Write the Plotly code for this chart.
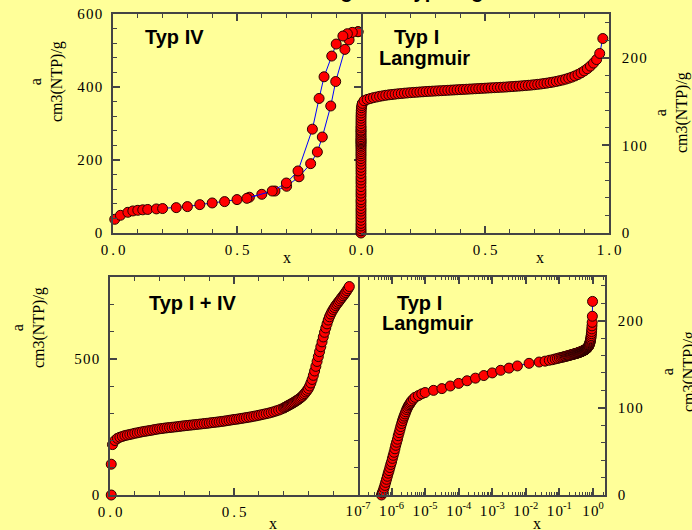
import plotly.graph_objects as go

# ---------------- data ----------------
# Typ IV (hysteresis): adsorption and desorption branches
typ4_ads_x = [0.007, 0.03, 0.06, 0.08, 0.10, 0.12, 0.14, 0.175, 0.20, 0.255, 0.30, 0.35, 0.40, 0.45,
              0.50, 0.55, 0.60, 0.653, 0.70, 0.75, 0.797, 0.824, 0.844, 0.878, 0.898, 0.935, 0.952, 0.988]
typ4_ads_y = [37.5, 48.5, 56.7, 60.4, 62.2, 63.5, 64.5, 66, 67, 69.5, 72.3, 77.7, 82.3, 86,
              91.5, 98, 106, 115, 128, 154, 190, 222, 263, 348, 415, 503, 529, 551.5]
typ4_des_x = [0.988, 0.965, 0.945, 0.927, 0.90, 0.882, 0.851, 0.831, 0.804, 0.746, 0.699, 0.642, 0.54]
typ4_des_y = [551.5, 549.7, 546, 539.7, 517.7, 484.8, 428, 368.6, 284.5, 170, 137, 115, 95]

# Typ I (Langmuir): steep low-pressure part, log-spaced part, linear part
lang_steep_x = [5.01e-7, 5.31e-7, 5.62e-7, 5.96e-7, 6.31e-7, 6.68e-7, 7.08e-7, 7.50e-7, 7.94e-7, 8.41e-7,
                8.91e-7, 9.44e-7, 1.00e-6, 1.06e-6, 1.12e-6, 1.19e-6, 1.26e-6, 1.33e-6, 1.41e-6, 1.50e-6,
                1.58e-6, 1.68e-6, 1.78e-6, 1.88e-6, 2.00e-6, 2.11e-6, 2.24e-6, 2.37e-6, 2.51e-6, 2.66e-6,
                2.82e-6, 2.99e-6, 3.16e-6, 3.35e-6, 3.55e-6, 3.76e-6, 3.98e-6, 4.47e-6, 5.01e-6, 6.31e-6,
                7.94e-6, 1.00e-5]
lang_steep_y = [0, 2.5, 5, 8, 11, 14.5, 18, 21.5, 25, 28,
                31.5, 35, 38, 42, 45.5, 49, 53, 57, 60.5, 64,
                68, 71.5, 75, 78.5, 82, 85, 88, 90.5, 93, 95.5,
                98, 100, 102, 103.5, 105, 106.5, 108, 110, 112, 114,
                116, 117.5]
lang_log_x = [1.78e-5, 3.16e-5, 5.62e-5, 1.0e-4, 1.78e-4, 3.16e-4, 5.62e-4, 1.0e-3, 1.78e-3, 3.16e-3, 5.62e-3]
lang_log_y = [120, 122, 125, 128, 131, 134, 137, 140, 143, 145.5, 148]
lang_lin_x = [0.0125, 0.025, 0.0375, 0.05, 0.0625, 0.075, 0.0875, 0.1, 0.1125, 0.125,
              0.1375, 0.15, 0.1625, 0.175, 0.1875, 0.2, 0.2125, 0.225, 0.2375, 0.25,
              0.2625, 0.275, 0.2875, 0.3, 0.3125, 0.325, 0.3375, 0.35, 0.3625, 0.375,
              0.3875, 0.4, 0.4125, 0.425, 0.4375, 0.45, 0.4625, 0.475, 0.4875, 0.5,
              0.5125, 0.525, 0.5375, 0.55, 0.5625, 0.575, 0.5875, 0.6, 0.6125, 0.625,
              0.6375, 0.65, 0.6625, 0.675, 0.6875, 0.7, 0.7125, 0.725, 0.7375, 0.75,
              0.7625, 0.775, 0.7875, 0.8, 0.8125, 0.825, 0.8375, 0.85, 0.8625, 0.875,
              0.8875, 0.9, 0.9125, 0.925, 0.9375, 0.95, 0.9625, 0.975]
lang_lin_y = [151, 152.5, 153.5, 154.5, 155.2, 156, 156.6, 157.2, 157.7, 158.1,
              158.5, 158.9, 159.2, 159.6, 159.9, 160.2, 160.5, 160.7, 161.0, 161.2,
              161.5, 161.7, 161.9, 162.1, 162.3, 162.5, 162.7, 162.9, 163.1, 163.3,
              163.5, 163.7, 163.9, 164.1, 164.3, 164.5, 164.7, 164.9, 165.1, 165.3,
              165.5, 165.7, 165.9, 166.1, 166.3, 166.5, 166.7, 167.0, 167.2, 167.5,
              167.7, 168.0, 168.3, 168.6, 168.9, 169.3, 169.7, 170.1, 170.6, 171.1,
              171.7, 172.3, 173.0, 173.8, 174.6, 175.6, 176.7, 177.9, 179.3, 180.9,
              182.8, 185.0, 187.5, 190.5, 194.0, 198.0, 205.0, 222.0]

# Typ I + IV
mix_x = [0.005, 0.005,
         0.01, 0.02, 0.03, 0.04, 0.05, 0.06, 0.07, 0.08, 0.09, 0.10,
         0.11, 0.12, 0.13, 0.14, 0.15, 0.16, 0.17, 0.18, 0.19, 0.20,
         0.21, 0.22, 0.23, 0.24, 0.25, 0.26, 0.27, 0.28, 0.29, 0.30,
         0.31, 0.32, 0.33, 0.34, 0.35, 0.36, 0.37, 0.38, 0.39, 0.40,
         0.41, 0.42, 0.43, 0.44, 0.45, 0.46, 0.47, 0.48, 0.49, 0.50,
         0.51, 0.52, 0.53, 0.54, 0.55, 0.56, 0.57, 0.58, 0.59, 0.60,
         0.61, 0.62, 0.63, 0.64, 0.65, 0.66, 0.67, 0.68, 0.69, 0.70,
         0.705, 0.71, 0.715, 0.72, 0.725, 0.73, 0.735, 0.74, 0.745, 0.75,
         0.755, 0.76, 0.765, 0.77, 0.775, 0.78, 0.785, 0.79, 0.795, 0.80,
         0.805, 0.81, 0.815, 0.82, 0.825, 0.83, 0.835, 0.84, 0.845, 0.85,
         0.855, 0.86, 0.865, 0.87, 0.875, 0.88, 0.885, 0.89, 0.895, 0.90,
         0.905, 0.91, 0.915, 0.92, 0.925, 0.93, 0.935, 0.94, 0.945, 0.95,
         0.955, 0.96, 0.965]
mix_y = [0, 113,
         185, 200, 208, 212, 215, 218, 220, 222, 224, 226.5,
         228, 230, 232, 233.5, 235, 236.5, 238, 240, 241.5, 243,
         244, 245.5, 246.5, 247.5, 248.5, 249.5, 250.5, 251.7, 253, 254,
         255, 256, 257, 258, 259, 260, 261, 262, 263, 264,
         265.5, 266.5, 267.5, 268.5, 270, 271, 272.5, 274, 275.5, 277,
         278, 279.5, 281, 282.5, 284, 285.5, 287, 289, 290.5, 292.5,
         294.5, 296.5, 298.5, 300.5, 303, 305.5, 308.5, 311.5, 315, 319,
         321.5, 324, 326.5, 329, 331.5, 334, 336.5, 339, 342, 345,
         348, 351, 354.5, 358, 362, 367, 372, 378, 384, 391,
         400, 411, 424, 439, 455, 472, 490, 508, 526, 544,
         562, 580, 597, 613, 628, 642, 654, 664, 673, 681,
         688, 695, 701, 707, 713, 719, 725, 731, 737, 743,
         750, 757, 765]

# tick labels (hair/thin spaces mimic the wide letter spacing of the original)
HS = "\u200a"
TS = "\u2009"
lin_tick_vals = [0, 0.5, 1]
lin_tick_text = ["0" + TS + "." + TS + "0", "0" + TS + "." + TS + "5", "1" + TS + "." + TS + "0"]
tl_y_vals = [0, 200, 400, 600]
tl_y_text = ["0", "2" + HS + "0" + HS + "0", "4" + HS + "0" + HS + "0", "6" + HS + "0" + HS + "0"]
r_y_vals = [0, 100, 200]
r_y_text = ["0", "1" + HS + "0" + HS + "0", "2" + HS + "0" + HS + "0"]
bl_y_vals = [0, 500]
bl_y_text = ["0", "5" + HS + "0" + HS + "0"]
log_tick_vals = [1e-7, 1e-6, 1e-5, 1e-4, 1e-3, 1e-2, 1e-1, 1e0]
log_tick_exp = ["-7", "-6", "-5", "-4", "-3", "-2", "-1", "0"]
log_tick_text = ["1" + HS + "0<sup>" + e + "</sup>" for e in log_tick_exp]

# ---------------- styling ----------------
W, H = 692, 530
BG = "#FFFF99"
AXC = "#444444"
SERIF = "Liberation Serif, Times New Roman, serif"
SANS = "Liberation Sans, Arial, Helvetica, sans-serif"


def px(x):
    return x / W


def py(y):
    return 1 - y / H


lang_x = lang_steep_x + lang_log_x + lang_lin_x
lang_y = lang_steep_y + lang_log_y + lang_lin_y

marker = dict(size=10, color="#FF0000", line=dict(color="#2a0000", width=1))
line = dict(color="#0000FF", width=1)

fig = go.Figure()
fig.add_trace(go.Scatter(x=typ4_ads_x, y=typ4_ads_y, mode="lines+markers", marker=marker, line=line,
                         xaxis="x", yaxis="y", cliponaxis=False, showlegend=False))
fig.add_trace(go.Scatter(x=typ4_des_x, y=typ4_des_y, mode="lines+markers", marker=marker, line=line,
                         xaxis="x", yaxis="y", cliponaxis=False, showlegend=False))
fig.add_trace(go.Scatter(x=lang_x, y=lang_y, mode="lines+markers", marker=marker, line=line,
                         xaxis="x2", yaxis="y2", cliponaxis=False, showlegend=False))
fig.add_trace(go.Scatter(x=mix_x, y=mix_y, mode="markers", marker=marker,
                         xaxis="x3", yaxis="y3", cliponaxis=False, showlegend=False))
fig.add_trace(go.Scatter(x=lang_x, y=lang_y, mode="lines+markers", marker=marker, line=line,
                         xaxis="x4", yaxis="y4", cliponaxis=False, showlegend=False))


def ax(**kw):
    d = dict(showgrid=False, zeroline=False, showline=True, linecolor=AXC, linewidth=1.5,
             mirror="ticks", ticks="inside", ticklen=7, tickwidth=1.5, tickcolor=AXC,
             tickfont=dict(family=SERIF, size=15, color="black"), fixedrange=True, tickmode="array")
    d.update(kw)
    return d


def minor(dt, ln=4):
    return dict(ticks="inside", ticklen=ln, tickwidth=1.2, tickcolor=AXC, dtick=dt, showgrid=False)


TLx = [px(113), px(361)]
TRx = [px(361), px(609)]
BLx = [px(110), px(358)]
BRx = [px(358), px(605)]
TY = [py(233), py(14)]
BY = [py(495), py(277)]

left_lin_text = lin_tick_text[:2] + [""]

fig.update_layout(
    width=W, height=H, margin=dict(l=0, r=0, t=0, b=0, autoexpand=False),
    paper_bgcolor=BG, plot_bgcolor=BG, showlegend=False,
    xaxis=ax(domain=TLx, anchor="y", range=[0, 1], tickvals=lin_tick_vals, ticktext=left_lin_text,
             minor=minor(0.1), ticklabelstandoff=2),
    yaxis=ax(domain=TY, anchor="x", range=[0, 600], tickvals=tl_y_vals, ticktext=tl_y_text,
             minor=minor(40), ticklabelstandoff=6),
    xaxis2=ax(domain=TRx, anchor="y2", range=[0, 1], tickvals=lin_tick_vals, ticktext=lin_tick_text,
              minor=minor(0.1), ticklabelstandoff=2),
    yaxis2=ax(domain=TY, anchor="x2", side="right", range=[0, 250], mirror=False,
              tickvals=r_y_vals, ticktext=r_y_text, minor=minor(20), ticklabelstandoff=8),
    xaxis3=ax(domain=BLx, anchor="y3", range=[0, 1], tickvals=lin_tick_vals, ticktext=left_lin_text,
              minor=minor(0.1), ticklabelstandoff=2),
    yaxis3=ax(domain=BY, anchor="x3", range=[0, 800], tickvals=bl_y_vals, ticktext=bl_y_text,
              minor=minor(100), ticklabelstandoff=6),
    xaxis4=ax(domain=BRx, anchor="y4", type="log", range=[-7, 0.36],
              tickvals=log_tick_vals, ticktext=log_tick_text, minor=minor("D1", 3), ticklabelstandoff=1),
    yaxis4=ax(domain=BY, anchor="x4", side="right", range=[0, 250], mirror=False,
              tickvals=r_y_vals, ticktext=r_y_text, minor=minor(20), ticklabelstandoff=8),
)

ann = []


def label(text, x, y, xanchor="left", size=20):
    ann.append(dict(text=text, x=px(x), y=py(y), xref="paper", yref="paper", xanchor=xanchor,
                    yanchor="middle", showarrow=False,
                    font=dict(family=SANS, size=size, color="black", weight="bold")))


label("Typ IV", 142.7, 36.7)
label("Typ I", 391.7, 37)
label("Langmuir", 376.7, 57.5)
label("Typ I + IV", 146.7, 302.7)
label("Typ I", 395, 303.3)
label("Langmuir", 380, 323.3)


def ytitle(x, y):
    ann.append(dict(text="a<br>cm3(NTP)/g", x=px(x), y=py(y), xref="paper", yref="paper",
                    xanchor="center", yanchor="middle", textangle=-90, showarrow=False,
                    font=dict(family=SERIF, size=16, color="black")))


ytitle(47, 81)
ytitle(671, 113)
ytitle(28, 328)
ytitle(678, 372)


def xtitle(x, y):
    ann.append(dict(text="x", x=px(x), y=py(y), xref="paper", yref="paper", xanchor="center",
                    yanchor="middle", showarrow=False, font=dict(family=SERIF, size=16, color="black")))


xtitle(287, 257)
xtitle(540, 257)
xtitle(273, 523)
xtitle(537, 523)

# title, mostly above the visible page
ann.append(dict(text="Langmuir-Typen\u00a0 gemäß BDDT", x=px(303), y=py(4), xref="paper", yref="paper",
                xanchor="left", yanchor="bottom", showarrow=False,
                font=dict(family=SANS, size=20, color="black", weight="bold")))

fig.update_layout(annotations=ann)
fig.write_html("out.html", config={"displayModeBar": False},
               post_script="document.body.style.margin='0';document.body.style.background='#FFFF99';")
